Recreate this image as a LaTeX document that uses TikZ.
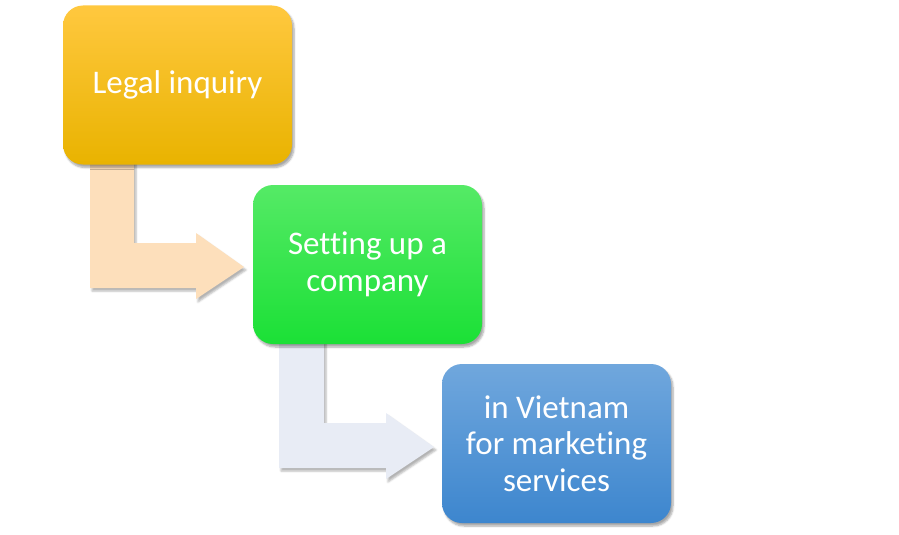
\documentclass[tikz,border=0pt]{standalone}
\usepackage{fontspec}
\setmainfont[Ligatures={NoCommon}]{Carlito}
\usetikzlibrary{shadows.blur}
\definecolor{orTop}{HTML}{FFC83F}
\definecolor{orBot}{HTML}{E9B300}
\definecolor{grTop}{HTML}{55EA66}
\definecolor{grBot}{HTML}{1BE036}
\definecolor{blTop}{HTML}{70A7DD}
\definecolor{blBot}{HTML}{3D86CE}
\definecolor{peach}{HTML}{FDDFBB}
\definecolor{paleblue}{HTML}{E8ECF5}
\tikzset{
  stepbox/.style={rounded corners=20pt, minimum width=229pt, minimum height=159pt,
    inner sep=0pt, text=white, align=center, font=\fontsize{33}{36.5}\selectfont,
    blur shadow={shadow xshift=2pt, shadow yshift=-3pt, shadow blur steps=6, shadow opacity=35}},
  bentarrow/.style={draw=none, blur shadow={shadow xshift=2pt, shadow yshift=-3pt, shadow blur steps=4, shadow opacity=30}}
}
\begin{document}
\begin{tikzpicture}[x=1pt,y=-1pt]
\useasboundingbox (0,0) rectangle (899,535);
% bent arrows
\fill[peach, bentarrow] (90,160) -- (134,160) -- (134,243) -- (196,243) -- (196,233) -- (244,267)
  -- (196,299) -- (196,288) -- (90,288) -- cycle;
\fill[paleblue, bentarrow] (279,340) -- (324,340) -- (324,423) -- (386,423) -- (386,413) -- (434,447)
  -- (386,479) -- (386,468) -- (279,468) -- cycle;
% boxes
\node[stepbox, top color=orTop, bottom color=orBot] (a) at (177.5,85) {\raisebox{-1pt}{Legal inquiry}};
\node[stepbox, top color=grTop, bottom color=grBot] (b) at (367.5,264.5) {Setting up a\\company};
\node[stepbox, top color=blTop, bottom color=blBot] (c) at (556.5,443.5) {in Vietnam\\for marketing\\services};
\end{tikzpicture}
\end{document}
